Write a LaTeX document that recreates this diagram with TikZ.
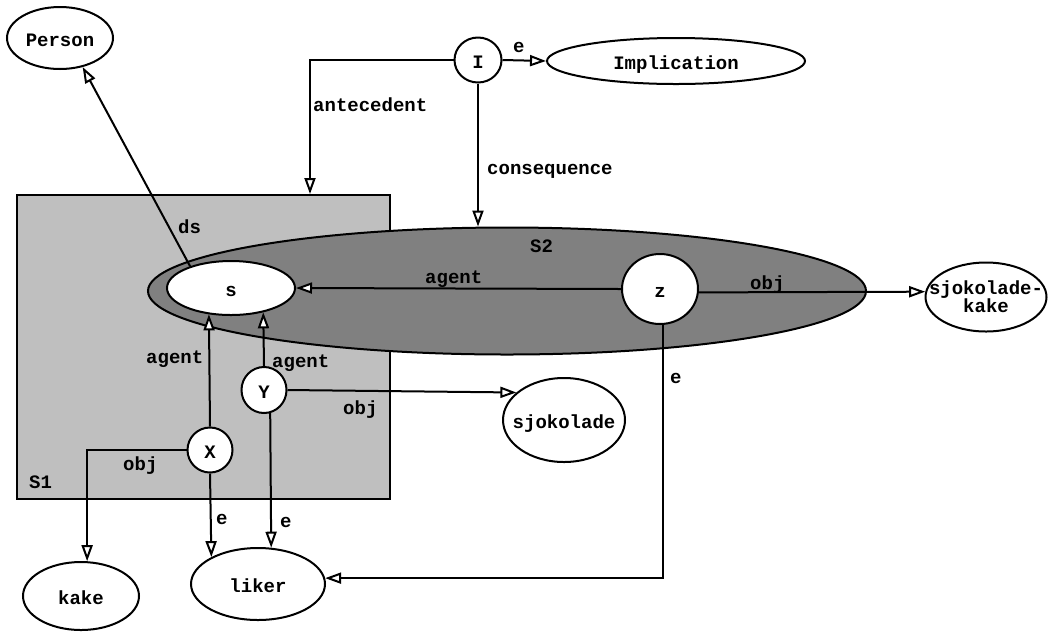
\documentclass[tikz,border=0pt]{standalone}
\usepackage{fontspec}
\setmonofont{Liberation Mono}
\usetikzlibrary{arrows.meta,shapes.geometric}
\begin{document}
\begin{tikzpicture}[x=1pt,y=-1pt,
  every node/.style={font=\ttfamily\bfseries\fontsize{19}{18}\selectfont},
  cnode/.style={draw, ellipse, fill=white, inner sep=0pt, line width=2pt},
  fixbase/.style={text height=16pt, text depth=0pt},
  lbl/.style={anchor=base west, inner sep=0pt},
  rel/.style={line width=2pt, -{Triangle[length=16pt, width=11pt, fill=white]}},
  context/.style={draw, line width=2pt}
]
\useasboundingbox (0,0) rectangle (1048,633);

% contexts
\node[context, rectangle, fill=gray!50, minimum width=373pt, minimum height=304pt, inner sep=0pt] (S1) at (203.5,347) {};
\node[lbl] (S1lbl) at (29,488) {S1};
\node[context, ellipse, fill=gray, minimum width=718pt, minimum height=127pt, inner sep=0pt] (S2) at (507,291) {};
\node[lbl] (S2lbl) at (530,252) {S2};

% concept and referent nodes (zero-width text boxes keep the given ellipse sizes)
\node[cnode, fixbase, minimum width=106pt, minimum height=62pt] (Person) at (60,38) {Person};
\node[cnode, fixbase, minimum width=47pt, minimum height=45pt] (I) at (478,60) {I};
\node[cnode, fixbase, minimum width=258pt, minimum height=46pt] (Implication) at (676,61) {Implication};
\node[cnode, fixbase, minimum width=128pt, minimum height=54pt] (s) at (231,288) {s};
\node[cnode, fixbase, minimum width=76pt, minimum height=70pt] (z) at (660,289) {z};
\node[cnode, align=center, minimum width=121pt, minimum height=69pt] (sjkake) at (986,297)
  {\makebox[0pt]{sjokolade-}\\\makebox[0pt]{kake}};
\node[cnode, fixbase, minimum width=45pt, minimum height=46pt] (Y) at (264,390) {Y};
\node[cnode, fixbase, minimum width=45pt, minimum height=45pt] (X) at (210,450) {X};
\node[cnode, fixbase, minimum width=122pt, minimum height=84pt] (sjokolade) at (564,420) {\makebox[0pt]{sjokolade}};
\node[cnode, fixbase, minimum width=116pt, minimum height=68pt] (kake) at (81,596) {kake};
\node[cnode, fixbase, minimum width=134pt, minimum height=72pt] (liker) at (258,584) {liker};

% relations
\draw[rel] (s.152) -- (Person.308);
\draw[rel] (I.west) -| ([xshift=-81pt]S1.north east);
\draw[rel] (I.south) -- (I.south |- S2.north);
\draw[rel] (I.east) -- (Implication.west);
\draw[rel] (z.west) -- (s.east);
\draw[rel] (z.-5) -- (sjkake.175);
\draw[rel] (Y.east) -- (sjokolade.150);
\draw[rel] (X.north) -- (s.230);
\draw[rel] (Y.north) -- (s.323);
\draw[rel] (X.west) -| (kake.80);
\draw[rel] (X.south) -- (liker.150);
\draw[rel] (Y.285) -- (liker.70);
\draw[rel] (z.275) |- (liker.5);

% relation labels
\node[lbl] (l-ds) at (178,233) {ds};
\node[lbl] (l-ante) at (313,111) {antecedent};
\node[lbl] (l-cons) at (487,174) {consequence};
\node[lbl] (l-eI) at (513,52) {e};
\node[lbl] (l-agz) at (425,283) {agent};
\node[lbl] (l-objz) at (750,289) {obj};
\node[lbl] (l-agX) at (146,363) {agent};
\node[lbl] (l-agY) at (272,367) {agent};
\node[lbl] (l-objY) at (343,414) {obj};
\node[lbl] (l-objX) at (123,470) {obj};
\node[lbl] (l-eX) at (216,524) {e};
\node[lbl] (l-eY) at (280,527) {e};
\node[lbl] (l-ez) at (670,383) {e};
\end{tikzpicture}
\end{document}
